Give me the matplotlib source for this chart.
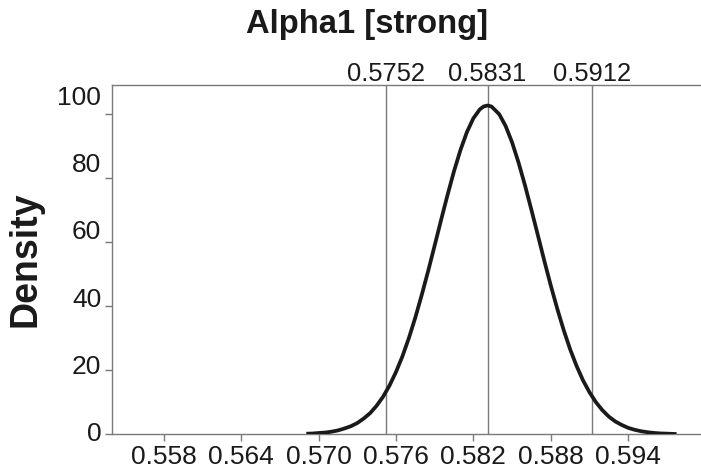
import matplotlib
import matplotlib.pyplot as plt

matplotlib.use("Agg")

plt.rcParams["font.family"] = ["Liberation Sans", "DejaVu Sans"]

# posterior density
x_vals = [0.5692, 0.5695, 0.570, 0.5705, 0.571, 0.5715, 0.572, 0.5725,
          0.573, 0.5735, 0.574, 0.5745, 0.575, 0.5755, 0.576, 0.5765,
          0.577, 0.5775, 0.578, 0.5785, 0.579, 0.5795, 0.580, 0.5805,
          0.581, 0.5815, 0.582, 0.5825, 0.5828, 0.5831, 0.5834, 0.584,
          0.5845, 0.585, 0.5855, 0.586, 0.5865, 0.587, 0.5875, 0.588,
          0.5885, 0.589, 0.5895, 0.590, 0.5905, 0.591, 0.5915, 0.592,
          0.5925, 0.593, 0.5935, 0.594, 0.5945, 0.595, 0.5955, 0.596,
          0.5965, 0.5976]
density = [0.2, 0.23, 0.4, 0.54, 0.8, 1.2, 1.8, 2.5,
           3.5, 4.9, 6.6, 8.9, 11.7, 15.2, 19.4, 24.3,
           30.0, 36.4, 43.5, 51.0, 58.9, 66.9, 74.7, 82.1,
           88.7, 94.3, 98.6, 101.4, 102.3, 102.6, 102.3, 99.9,
           96.2, 91.1, 84.8, 77.7, 70.0, 62.1, 54.1, 46.4,
           39.2, 32.5, 26.5, 21.3, 16.8, 13.1, 10.0, 7.5,
           5.5, 4.0, 2.9, 2.0, 1.4, 0.95, 0.64, 0.42,
           0.27, 0.1]

quantiles = [0.5752, 0.5831, 0.5912]
quantile_labels = ["0.5752", "0.5831", "0.5912"]

x_ticks = [0.558, 0.564, 0.570, 0.576, 0.582, 0.588, 0.594]
x_tick_labels = ["0.558", "0.564", "0.570", "0.576", "0.582", "0.588", "0.594"]
y_ticks = [0, 20, 40, 60, 80, 100]
y_tick_labels = ["0", "20", "40", "60", "80", "100"]

title = "Alpha1 [strong]"
ylabel = "Density"

spine_color = "#7a7a7a"
text_color = "#1a1a1a"

fig = plt.figure(figsize=(7.01, 4.74), dpi=100)
ax = fig.add_axes([0.1602, 0.0838, 0.8398, 0.7369])

for q in quantiles:
    ax.axvline(q, color=spine_color, linewidth=1.0, zorder=1)
ax.plot(x_vals, density, color=text_color, linewidth=2.7, zorder=3)

ax.set_xlim(0.55402, 0.59964)
ax.set_ylim(0, 109)

ax.set_xticks(x_ticks)
ax.set_xticklabels(x_tick_labels)
ax.set_yticks(y_ticks)
ax.set_yticklabels([])
ax.tick_params(axis="y", length=5, width=1, color=spine_color, direction="out")
ax.tick_params(axis="x", length=5, width=1, color=spine_color, direction="out",
               pad=3, labelsize=19, labelcolor=text_color)

# left labels sit a little above their ticks in the reference
for v, lab in zip(y_ticks, y_tick_labels):
    ax.annotate(lab, xy=(0, v * 1.05), xycoords=ax.get_yaxis_transform(),
                xytext=(-8, 0), textcoords="offset points", ha="right",
                va="center", fontsize=19, color=text_color,
                annotation_clip=False)

for side in ["left", "bottom", "top"]:
    ax.spines[side].set_color(spine_color)
    ax.spines[side].set_linewidth(1.0)
ax.spines["right"].set_visible(False)

for q, lab in zip(quantiles, quantile_labels):
    ax.annotate(lab, xy=(q, 1.0), xycoords=ax.get_xaxis_transform(),
                xytext=(0, 3), textcoords="offset points", ha="center",
                va="baseline", fontsize=18.4, color=text_color,
                annotation_clip=False)

fig.text(367.5 / 701, 1 - 25 / 474, title, ha="center", va="center",
         fontsize=23.6, fontweight="bold", color=text_color)
fig.text(25 / 701, 1 - 259 / 474, ylabel, ha="center", va="center",
         rotation=90, fontsize=27, fontweight="bold", color=text_color)

fig.savefig("out.png", dpi=100, facecolor="white")
